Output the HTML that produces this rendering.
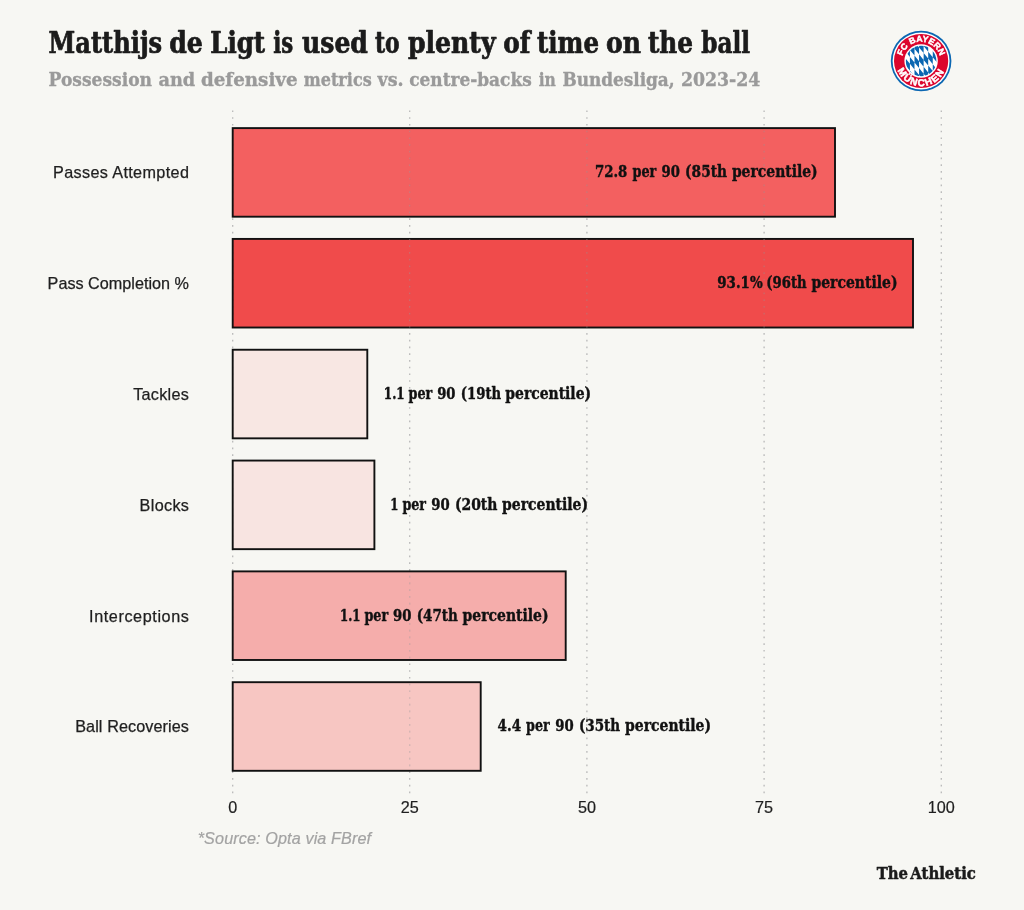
<!DOCTYPE html>
<html lang="en">
<head>
<meta charset="utf-8">
<title>Matthijs de Ligt is used to plenty of time on the ball</title>
<style>
  html, body { margin: 0; padding: 0; background: #f7f7f3; }
  body { width: 1024px; height: 910px; overflow: hidden; }
  svg { display: block; }
  .slab { font-family: "DejaVu Serif Condensed", "DejaVu Serif", "Liberation Serif", serif; font-weight: bold; }
  .sans { font-family: "Liberation Sans", "DejaVu Sans", sans-serif; }
  .title { font-size: 29.8px; fill: #1b1b1b; stroke: #1b1b1b; stroke-width: 0.7px; stroke-linejoin: round; word-spacing: -3.5px; }
  .subtitle { font-size: 19.4px; fill: #9a9a9a; stroke: #9a9a9a; stroke-width: 0.35px; stroke-linejoin: round; word-spacing: -2px; }
  .ylab { font-size: 16.2px; fill: #1f1f1f; text-anchor: end; stroke: #1f1f1f; stroke-width: 0.25px; }
  .xlab { font-size: 16.2px; fill: #1f1f1f; text-anchor: middle; stroke: #1f1f1f; stroke-width: 0.2px; }
  .val { font-size: 16.6px; fill: #111111; stroke: #111111; stroke-width: 0.4px; stroke-linejoin: round; word-spacing: -1.2px; }
  .caption { font-size: 16.2px; fill: #a3a3a3; font-style: italic; stroke: #a3a3a3; stroke-width: 0.2px; }
  .brand { font-size: 17px; fill: #1b1b1b; stroke: #1b1b1b; stroke-width: 0.5px; stroke-linejoin: round; word-spacing: -3px; }
  .cresttxt { font-weight: bold; fill: #ffffff; stroke: #ffffff; stroke-width: 0.5px; }
  .grid line { stroke: #b9b9b9; stroke-width: 1.3; stroke-dasharray: 1.7 5.044; }
  .bars rect { stroke: #111111; stroke-width: 1.9; fill-opacity: 0.7; }
</style>
</head>
<body>
<svg width="1024" height="910" viewBox="0 0 1024 910">
  <rect x="0" y="0" width="1024" height="910" fill="#f7f7f3"/>

  <!-- headings -->
  <text class="slab title" y="53.3"><tspan x="48.6" textLength="113.6" lengthAdjust="spacingAndGlyphs">Matthijs</tspan> <tspan x="169.2" textLength="33.6" lengthAdjust="spacingAndGlyphs">de</tspan> <tspan x="210.3" textLength="54.7" lengthAdjust="spacingAndGlyphs">Ligt</tspan> <tspan x="273.3" textLength="20.0" lengthAdjust="spacingAndGlyphs">is</tspan> <tspan x="302.0" textLength="65.9" lengthAdjust="spacingAndGlyphs">used</tspan> <tspan x="374.9" textLength="24.7" lengthAdjust="spacingAndGlyphs">to</tspan> <tspan x="407.9" textLength="87.7" lengthAdjust="spacingAndGlyphs">plenty</tspan> <tspan x="503.2" textLength="27.2" lengthAdjust="spacingAndGlyphs">of</tspan> <tspan x="537.0" textLength="62.0" lengthAdjust="spacingAndGlyphs">time</tspan> <tspan x="606.0" textLength="34.9" lengthAdjust="spacingAndGlyphs">on</tspan> <tspan x="647.9" textLength="45.1" lengthAdjust="spacingAndGlyphs">the</tspan> <tspan x="701.3" textLength="48.8" lengthAdjust="spacingAndGlyphs">ball</tspan></text>
  <text class="slab subtitle" y="85.85"><tspan x="48.6" textLength="103.4" lengthAdjust="spacingAndGlyphs">Possession</tspan> <tspan x="158.5" textLength="36.7" lengthAdjust="spacingAndGlyphs">and</tspan> <tspan x="200.9" textLength="96.7" lengthAdjust="spacingAndGlyphs">defensive</tspan> <tspan x="303.8" textLength="67.9" lengthAdjust="spacingAndGlyphs">metrics</tspan> <tspan x="377.5" textLength="26.0" lengthAdjust="spacingAndGlyphs">vs.</tspan> <tspan x="409.2" textLength="122.5" lengthAdjust="spacingAndGlyphs">centre-backs</tspan> <tspan x="538.7" textLength="17.2" lengthAdjust="spacingAndGlyphs">in</tspan> <tspan x="562.4" textLength="112.3" lengthAdjust="spacingAndGlyphs">Bundesliga,</tspan> <tspan x="680.9" textLength="79.4" lengthAdjust="spacingAndGlyphs">2023-24</tspan></text>

  <!-- vertical dotted gridlines -->
  <g class="grid">
    <line x1="232.7" y1="110.4" x2="232.7" y2="793.5"/>
    <line x1="409.7" y1="110.4" x2="409.7" y2="793.5"/>
    <line x1="586.9" y1="110.4" x2="586.9" y2="793.5"/>
    <line x1="764.1" y1="110.4" x2="764.1" y2="793.5"/>
    <line x1="941.3" y1="110.4" x2="941.3" y2="793.5"/>
  </g>

  <!-- bars -->
  <g class="bars">
    <rect x="232.7" y="128.10" width="602.3" height="88.6" fill="#f11f21"/>
    <rect x="232.7" y="238.92" width="680.3" height="88.6" fill="#ed0103"/>
    <rect x="232.7" y="349.74" width="134.6" height="88.6" fill="#f8dfdc"/>
    <rect x="232.7" y="460.56" width="141.7" height="88.6" fill="#f8dcd9"/>
    <rect x="232.7" y="571.38" width="333.0" height="88.6" fill="#f48d8c"/>
    <rect x="232.7" y="682.20" width="248.0" height="88.6" fill="#f6b0ac"/>
  </g>

  <clipPath id="barclip">
    <rect x="232.7" y="128.10" width="602.3" height="88.6"/>
    <rect x="232.7" y="238.92" width="680.3" height="88.6"/>
    <rect x="232.7" y="349.74" width="134.6" height="88.6"/>
    <rect x="232.7" y="460.56" width="141.7" height="88.6"/>
    <rect x="232.7" y="571.38" width="333.0" height="88.6"/>
    <rect x="232.7" y="682.20" width="248.0" height="88.6"/>
  </clipPath>
  <g class="grid" clip-path="url(#barclip)" opacity="0.4">
    <line x1="409.7" y1="110.4" x2="409.7" y2="793.5"/>
    <line x1="586.9" y1="110.4" x2="586.9" y2="793.5"/>
    <line x1="764.1" y1="110.4" x2="764.1" y2="793.5"/>
  </g>

  <!-- y axis labels -->
  <g class="sans ylab">
    <text x="188.9" y="178.2" textLength="135.9" lengthAdjust="spacing">Passes Attempted</text>
    <text x="188.9" y="289.0" textLength="141.3" lengthAdjust="spacing">Pass Completion %</text>
    <text x="188.9" y="399.8" textLength="55.7" lengthAdjust="spacing">Tackles</text>
    <text x="188.9" y="510.7" textLength="49.3" lengthAdjust="spacing">Blocks</text>
    <text x="188.9" y="621.5" textLength="99.8" lengthAdjust="spacing">Interceptions</text>
    <text x="188.9" y="732.3" textLength="113.7" lengthAdjust="spacing">Ball Recoveries</text>
  </g>

  <!-- value labels -->
  <g class="slab val">
    <text y="177.3"><tspan x="594.9" textLength="32.4" lengthAdjust="spacingAndGlyphs">72.8</tspan> <tspan x="632.5" textLength="23.8" lengthAdjust="spacingAndGlyphs">per</tspan> <tspan x="661.5" textLength="18.3" lengthAdjust="spacingAndGlyphs">90</tspan> <tspan x="685.1" textLength="42.0" lengthAdjust="spacingAndGlyphs">(85th</tspan> <tspan x="731.9" textLength="85.8" lengthAdjust="spacingAndGlyphs">percentile)</tspan></text>
    <text y="288.1"><tspan x="717.3" textLength="45.3" lengthAdjust="spacingAndGlyphs">93.1%</tspan> <tspan x="766.3" textLength="40.3" lengthAdjust="spacingAndGlyphs">(96th</tspan> <tspan x="811.5" textLength="86.0" lengthAdjust="spacingAndGlyphs">percentile)</tspan></text>
    <text y="398.9"><tspan x="383.8" textLength="20.9" lengthAdjust="spacingAndGlyphs">1.1</tspan> <tspan x="408.5" textLength="23.7" lengthAdjust="spacingAndGlyphs">per</tspan> <tspan x="437.2" textLength="18.3" lengthAdjust="spacingAndGlyphs">90</tspan> <tspan x="460.8" textLength="40.4" lengthAdjust="spacingAndGlyphs">(19th</tspan> <tspan x="505.3" textLength="85.8" lengthAdjust="spacingAndGlyphs">percentile)</tspan></text>
    <text y="509.8"><tspan x="390.2" textLength="8.2" lengthAdjust="spacingAndGlyphs">1</tspan> <tspan x="402.4" textLength="23.6" lengthAdjust="spacingAndGlyphs">per</tspan> <tspan x="431.3" textLength="18.4" lengthAdjust="spacingAndGlyphs">90</tspan> <tspan x="454.9" textLength="42.5" lengthAdjust="spacingAndGlyphs">(20th</tspan> <tspan x="502.1" textLength="86.0" lengthAdjust="spacingAndGlyphs">percentile)</tspan></text>
    <text y="620.6"><tspan x="340.0" textLength="20.6" lengthAdjust="spacingAndGlyphs">1.1</tspan> <tspan x="364.4" textLength="23.7" lengthAdjust="spacingAndGlyphs">per</tspan> <tspan x="393.1" textLength="18.4" lengthAdjust="spacingAndGlyphs">90</tspan> <tspan x="416.7" textLength="41.2" lengthAdjust="spacingAndGlyphs">(47th</tspan> <tspan x="462.6" textLength="86.0" lengthAdjust="spacingAndGlyphs">percentile)</tspan></text>
    <text y="731.4"><tspan x="497.6" textLength="23.5" lengthAdjust="spacingAndGlyphs">4.4</tspan> <tspan x="526.1" textLength="23.6" lengthAdjust="spacingAndGlyphs">per</tspan> <tspan x="555.3" textLength="18.4" lengthAdjust="spacingAndGlyphs">90</tspan> <tspan x="578.9" textLength="41.2" lengthAdjust="spacingAndGlyphs">(35th</tspan> <tspan x="625.1" textLength="85.9" lengthAdjust="spacingAndGlyphs">percentile)</tspan></text>
  </g>

  <!-- x axis labels -->
  <g class="sans xlab">
    <text x="232.7" y="812.6">0</text>
    <text x="409.7" y="812.6">25</text>
    <text x="586.9" y="812.6">50</text>
    <text x="764.1" y="812.6">75</text>
    <text x="941.3" y="812.6">100</text>
  </g>

  <!-- caption -->
  <text class="sans caption" x="197.7" y="843.8" textLength="173.4" lengthAdjust="spacing">*Source: Opta via FBref</text>

  <!-- brand -->
  <text class="slab brand" x="876.7" y="879.1" textLength="99.2" lengthAdjust="spacingAndGlyphs">The Athletic</text>

  <!-- club crest -->
  <g id="crest" transform="translate(921.1 61)">
    <circle r="30.3" fill="#0b67b2"/>
    <circle r="28.5" fill="#ffffff"/>
    <circle r="27.1" fill="#dc052d"/>
    <circle r="16.7" fill="#ffffff"/>
    <clipPath id="lozclip"><circle r="15.3"/></clipPath>
    <g clip-path="url(#lozclip)">
      <path fill="#0b67b2" d="M-24.89 -13.98 L-20.32 -8.38 L-20.32 -1.48 L-24.89 -7.08ZM-24.89 -0.18 L-20.32 5.42 L-20.32 12.32 L-24.89 6.72ZM-20.32 -15.28 L-15.75 -9.68 L-15.75 -2.78 L-20.32 -8.38ZM-20.32 -1.48 L-15.75 4.12 L-15.75 11.02 L-20.32 5.42ZM-15.75 -16.58 L-11.18 -10.98 L-11.18 -4.08 L-15.75 -9.68ZM-15.75 -2.78 L-11.18 2.82 L-11.18 9.72 L-15.75 4.12ZM-15.75 11.02 L-11.18 16.62 L-11.18 23.52 L-15.75 17.92ZM-11.18 -17.88 L-6.61 -12.28 L-6.61 -5.38 L-11.18 -10.98ZM-11.18 -4.08 L-6.61 1.52 L-6.61 8.42 L-11.18 2.82ZM-11.18 9.72 L-6.61 15.32 L-6.61 22.22 L-11.18 16.62ZM-6.61 -19.18 L-2.04 -13.58 L-2.04 -6.68 L-6.61 -12.28ZM-6.61 -5.38 L-2.04 0.22 L-2.04 7.12 L-6.61 1.52ZM-6.61 8.42 L-2.04 14.02 L-2.04 20.92 L-6.61 15.32ZM-2.04 -20.48 L2.53 -14.88 L2.53 -7.98 L-2.04 -13.58ZM-2.04 -6.68 L2.53 -1.08 L2.53 5.82 L-2.04 0.22ZM-2.04 7.12 L2.53 12.72 L2.53 19.62 L-2.04 14.02ZM2.53 -21.78 L7.10 -16.18 L7.10 -9.28 L2.53 -14.88ZM2.53 -7.98 L7.10 -2.38 L7.10 4.52 L2.53 -1.08ZM2.53 5.82 L7.10 11.42 L7.10 18.32 L2.53 12.72ZM7.10 -23.08 L11.67 -17.48 L11.67 -10.58 L7.10 -16.18ZM7.10 -9.28 L11.67 -3.68 L11.67 3.22 L7.10 -2.38ZM7.10 4.52 L11.67 10.12 L11.67 17.02 L7.10 11.42ZM11.67 -24.38 L16.24 -18.78 L16.24 -11.88 L11.67 -17.48ZM11.67 -10.58 L16.24 -4.98 L16.24 1.92 L11.67 -3.68ZM11.67 3.22 L16.24 8.82 L16.24 15.72 L11.67 10.12ZM16.24 -11.88 L20.81 -6.28 L20.81 0.62 L16.24 -4.98ZM16.24 1.92 L20.81 7.52 L20.81 14.42 L16.24 8.82ZM20.81 -13.18 L25.38 -7.58 L25.38 -0.68 L20.81 -6.28ZM20.81 0.62 L25.38 6.22 L25.38 13.12 L20.81 7.52Z"/>
    </g>
    <path id="arcTop" d="M -19.3 0 A 19.3 19.3 0 0 1 19.3 0" fill="none"/>
    <path id="arcBot" d="M -25.2 0 A 25.2 25.2 0 0 0 25.2 0" fill="none"/>
    <text class="sans cresttxt" font-size="8.6" letter-spacing="0.1"><textPath href="#arcTop" startOffset="50%" text-anchor="middle">FC BAYERN</textPath></text>
    <text class="sans cresttxt" font-size="9.8" letter-spacing="1.35"><textPath href="#arcBot" startOffset="50%" text-anchor="middle">MÜNCHEN</textPath></text>
  </g>
</svg>
</body>
</html>
